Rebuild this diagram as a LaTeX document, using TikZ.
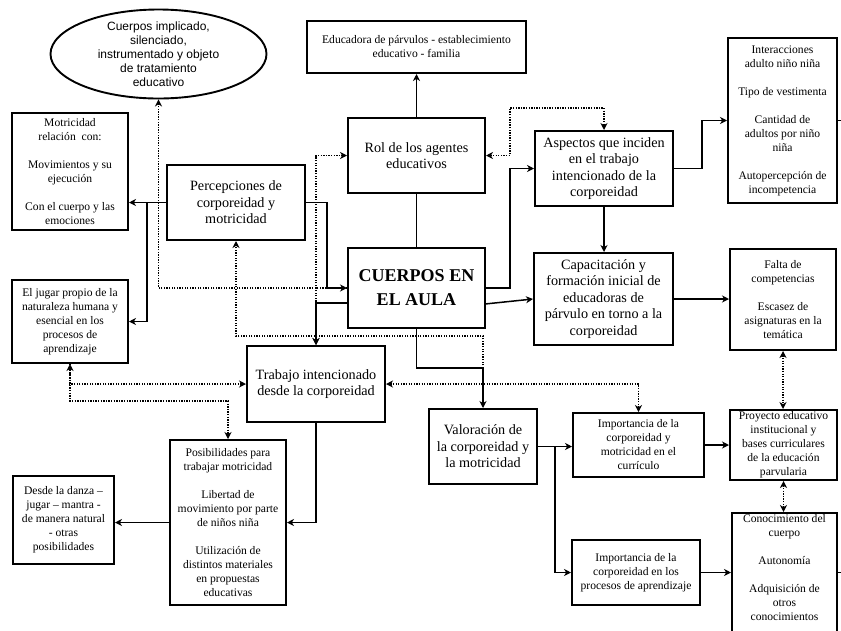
\documentclass[tikz,border=0pt]{standalone}
\usepackage{fontspec}
\setmainfont{Liberation Serif}
\newfontfamily\ellfont{Liberation Sans}
\usetikzlibrary{arrows.meta,shapes.geometric}
\newcommand\fsml{\fontsize{11.6}{14}\selectfont}
\newcommand\fmed{\fontsize{14.2}{16.5}\selectfont}
\newcommand\fbg{\fontsize{18}{24}\selectfont\bfseries}
\tikzset{
  box/.style={draw, line width=2pt, inner sep=0pt, align=center, font=\fsml},
  medbox/.style={box, font=\fmed},
  sz/.style 2 args={minimum width=#1pt, minimum height=#2pt},
  conn/.style={line width=1.5pt},
  dots/.style={line width=1.6pt, dash pattern=on 1.3pt off 1.3pt},
  >={Stealth[length=7pt,width=7pt,inset=2.2pt]}
}
\begin{document}
\begin{tikzpicture}[x=1pt,y=-1pt]
\useasboundingbox (0,0) rectangle (841,630);
\fill[white] (0,0) rectangle (841,630);
\clip (0,0) rectangle (841,630);

% ellipse
\node[draw, ellipse, line width=1.9pt, inner xsep=0pt, inner ysep=-14pt,
      minimum width=216pt, minimum height=89pt, align=center,
      font={\ellfont\fontsize{12}{14}\selectfont}] (ell) at (158.5,54)
  {Cuerpos implicado,\\silenciado,\\instrumentado y objeto\\de tratamiento\\educativo};

% boxes
\node[box, sz={116}{117}] (motr) at (70,171.5)
  {Motricidad\\relación\ \ con:\\[14pt]Movimientos y su\\ejecución\\[14pt]Con el cuerpo y las\\emociones};
\node[box, sz={116}{83}] (jugar) at (70,321.5)
  {El jugar propio de la\\naturaleza humana y\\esencial en los\\procesos de\\aprendizaje};
\node[medbox, sz={138}{75}] (perc) at (236,202.5)
  {Percepciones de\\corporeidad y\\motricidad};
\node[box, sz={219}{52}] (edu) at (416.5,47)
  {Educadora de párvulos - establecimiento\\educativo - familia};
\node[medbox, sz={137}{75}] (rol) at (416.5,155.5)
  {Rol de los agentes\\educativos};
\node[box, font=\fbg, sz={137}{80}] (cuerpos) at (416.5,288)
  {CUERPOS EN\\EL AULA};
\node[medbox, sz={138}{75}] (asp) at (604,168.5)
  {Aspectos que inciden\\en el trabajo\\intencionado de la\\corporeidad};
\node[box, sz={109}{165}] (inter) at (782.5,120.5)
  {Interacciones\\adulto niño niña\\[14pt]Tipo de vestimenta\\[14pt]Cantidad de\\adultos por niño\\niña\\[14pt]Autopercepción de\\incompetencia};
\node[medbox, sz={139}{92}] (cap) at (603.5,299)
  {Capacitación y\\formación inicial de\\educadoras de\\párvulo en torno a la\\corporeidad};
\node[box, sz={106}{101}] (falta) at (783,299.5)
  {Falta de\\competencias\\[14pt]Escasez de\\asignaturas en la\\temática};
\node[box, sz={107}{70}] (proy) at (783.5,445)
  {Proyecto educativo\\institucional y\\bases curriculares\\de la educación\\parvularia};
\node[box, sz={105}{145}] (conoc) at (784.5,585.5)
  {\raisebox{14pt}[0pt][0pt]{\begin{tabular}{@{}c@{}}Conocimiento del\\cuerpo\\[14pt]Autonomía\\[14pt]Adquisición de\\otros\\conocimientos\end{tabular}}};
\node[box, sz={131}{64}] (imp1) at (638.5,445)
  {Importancia de la\\corporeidad y\\motricidad en el\\currículo};
\node[box, sz={128}{65}] (imp2) at (636,572.5)
  {Importancia de la\\corporeidad en los\\procesos de aprendizaje};
\node[medbox, sz={108}{75}] (val) at (483,446.5)
  {Valoración de\\la corporeidad y\\la motricidad};
\node[medbox, sz={138}{76}] (trab) at (316,384)
  {Trabajo intencionado\\desde la corporeidad};
\node[box, sz={116}{165}] (posib) at (228,522.5)
  {Posibilidades para\\trabajar motricidad\\[14pt]Libertad de\\movimiento por parte\\de niños niña\\[14pt]Utilización de\\distintos materiales\\en propuestas\\educativas};
\node[box, sz={101}{88}] (desde) at (63.5,520)
  {Desde la danza –\\jugar – mantra -\\de manera natural\\- otras\\posibilidades};

% helper coordinates
\coordinate (j1) at (147,202.5);
\coordinate (p1) at (327,288);
\coordinate (c2) at (348,303);
\coordinate (c3) at (485,304);
\coordinate (d1) at (236,336);
\coordinate (v1) at (483,368);
\coordinate (v2) at (555,446.5);
\coordinate (r1) at (510,108);
\coordinate (a1) at (510,200);
\coordinate (i1) at (702,150);
\coordinate (j2) at (70,401);
\coordinate (edgeR) at (850,0);

% solid connectors
\draw[conn,->] (rol) -- (edu);
\draw[conn] (rol) -- (cuerpos);
\draw[conn,->] (perc.west) -- (perc.west -| motr.east);
\draw[conn,->] (j1) |- (jugar.east);
\draw[conn,->] (perc.east) -| (p1) -- (cuerpos.west);
\draw[conn,->] (c2) -| (trab.north);
\draw[conn,->] (cuerpos.south) |- (v1) -- (val.north);
\draw[conn,->] (cuerpos.east) -| (a1) |- (asp.west);
\draw[conn,->] (asp.east) -| (i1) |- (inter.west);
\draw[conn,->] (asp.south) -- (asp.south |- cap.north);
\draw[conn,->] (c3) -- (cap.west);
\draw[conn,->] (cap.east) -- (cap.east -| falta.west);
\draw[conn,->] (imp1.east) -- (proy.west);
\draw[conn,->] (imp2.east) -- (imp2.east -| conoc.west);
\draw[conn,->] (val.east) -- (val.east -| imp1.west);
\draw[conn,->] (v2) |- (imp2.west);
\draw[conn,->] (trab.south) |- (posib.east);
\draw[conn,->] (posib.west) -- (posib.west -| desde.east);
\draw[conn] (inter.east) -- (inter.east -| edgeR);
\draw[conn] (conoc.east |- imp2.east) -- (imp2.east -| edgeR);

% dotted connectors
\draw[dots,->] (cuerpos.west) -| (ell.south);
\draw[dots,<->] (trab.north) |- (rol.west);
\draw[dots,->] (v1) |- (d1) -- (perc.south);
\draw[dots,<->] (rol.east) -| (r1) -| (asp.north);
\draw[dots,<->] (falta.south) -- (falta.south |- proy.north);
\draw[dots,<->] (proy.south) -- (proy.south |- conoc.north);
\draw[dots,<->] (trab.east) -| (imp1.north);
\draw[dots,<->] (trab.west) -| (jugar.south);
\draw[dots,->] (jugar.south) -- (j2) -| (posib.north);
\end{tikzpicture}
\end{document}
